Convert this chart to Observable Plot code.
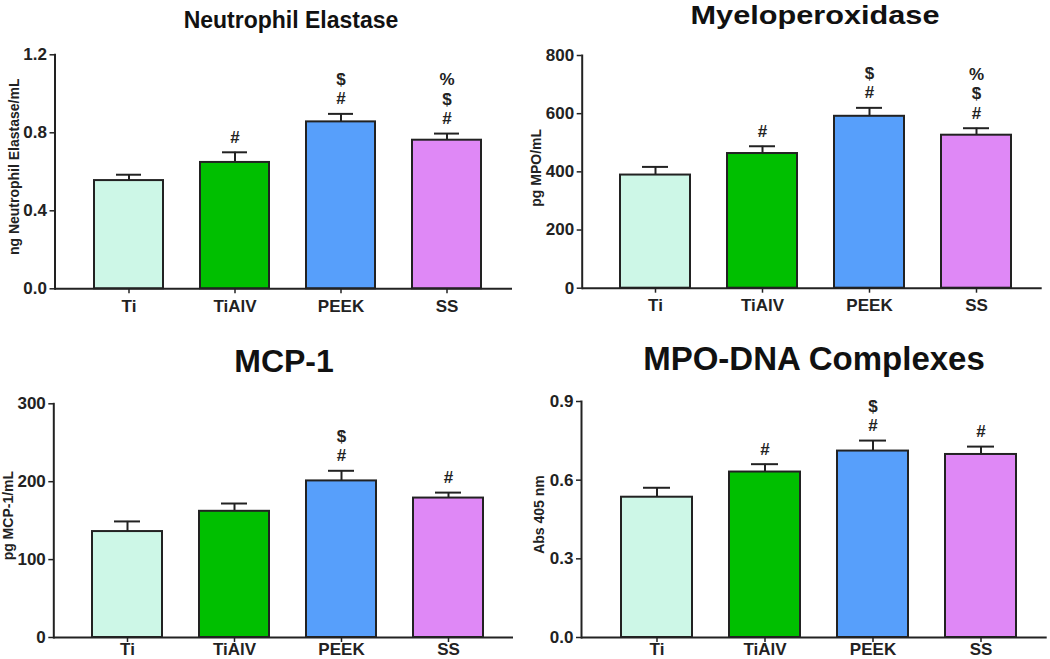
<!DOCTYPE html>
<html><head><meta charset="utf-8">
<script src="https://cdn.jsdelivr.net/npm/d3@7"></script>
<script src="https://cdn.jsdelivr.net/npm/@observablehq/plot@0.6"></script>
<style>
body{margin:0;background:#fff;font-family:"Liberation Sans",Arial,sans-serif;}
#wrap{position:relative;width:1050px;height:659px;overflow:hidden;background:#fff;}
.panel{position:absolute;}
.panel svg{overflow:visible;}
.title{position:absolute;font-weight:bold;line-height:1;text-align:center;width:600px;color:#111;white-space:nowrap;transform-origin:50% 50%;}
</style></head><body><div id="wrap"></div>
<script>
// ---- data ----
const categories = ["Ti", "TiAlV", "PEEK", "SS"];
const barColors = ["#cdf7e7", "#00bf00", "#579ffb", "#df88f6"];

const neMean = [0.555, 0.648, 0.856, 0.762];
const neSem  = [0.030, 0.052, 0.041, 0.034];
const neSig  = [[], ["#"], ["#", "$"], ["#", "$", "%"]];
const neTicks = [0, 0.4, 0.8, 1.2];

const mpoMean = [389, 463, 591, 526];
const mpoSem  = [28, 25, 29, 24];
const mpoSig  = [[], ["#"], ["#", "$"], ["#", "$", "%"]];
const mpoTicks = [0, 200, 400, 600, 800];

const mcpMean = [136, 162, 201, 179];
const mcpSem  = [13, 10, 13, 7];
const mcpSig  = [[], [], ["#", "$"], ["#"]];
const mcpTicks = [0, 100, 200, 300];

const dnaMean = [0.535, 0.631, 0.711, 0.698];
const dnaSem  = [0.036, 0.030, 0.040, 0.030];
const dnaSig  = [[], ["#"], ["#", "$"], ["#"]];
const dnaTicks = [0, 0.3, 0.6, 0.9];

const INK = "#222";
const FONT = "'Liberation Sans', Arial, sans-serif";

function makePanel(p) {
  const data = categories.map((c, i) => ({
    cat: c, mean: p.mean[i], upper: p.mean[i] + p.sem[i], color: barColors[i], sig: p.sig[i]
  }));
  const marks = [
    Plot.ruleX(data, {x: "cat", y1: "mean", y2: "upper", stroke: INK, strokeWidth: 2}),
    Plot.tickY(data, {x: "cat", y: "upper", stroke: INK, strokeWidth: 2, insetLeft: 22, insetRight: 22}),
    Plot.barY(data, {x: "cat", y: "mean", fill: "color", stroke: INK, strokeWidth: 2}),
    Plot.ruleY([0], {stroke: INK, strokeWidth: 2}),
    Plot.frame({anchor: "left", stroke: INK, strokeWidth: 2}),
    Plot.axisY({ticks: p.ticks, tickFormat: p.fmt, tickSize: 5, tickPadding: 3, fontSize: 17, fontWeight: "bold", label: null, color: INK, strokeWidth: 1.5}),
    Plot.axisX({tickSize: 5, tickPadding: p.xpad, fontSize: 17, fontWeight: "bold", label: null, color: INK, strokeWidth: 1.5}),
    Plot.text([p.ylabel], {frameAnchor: "left", textAnchor: "middle", rotate: -90, dx: p.labelDx, dy: p.labelDy, fontSize: 14, fontWeight: "bold", fill: INK, text: d => d})
  ];
  for (let lvl = 0; lvl < 3; lvl++) {
    marks.push(Plot.text(data.filter(d => d.sig.length > lvl), {
      x: "cat", y: "upper", text: d => d.sig[lvl], dy: -15 - 19.5 * lvl,
      fontSize: 17, fontWeight: "bold", fill: INK
    }));
  }
  return Plot.plot({
    width: 525, height: 330,
    marginLeft: p.ml, marginRight: p.mr, marginTop: p.mt, marginBottom: p.mb,
    x: {domain: categories, paddingInner: 0.346, paddingOuter: 0.311, align: 0.56},
    y: {domain: p.domain},
    style: {fontFamily: FONT, background: "transparent", color: INK},
    marks
  });
}

const panels = [
  {left: 0, top: 0, mean: neMean, sem: neSem, sig: neSig, ticks: neTicks, fmt: d3.format(".1f"), domain: [0, 1.2],
   ylabel: "ng Neutrophil Elastase/mL", ml: 54.5, mr: 13, mt: 54.3, mb: 41.7, labelDx: -40.5, labelDy: -5, xpad: 6,
   title: "Neutrophil Elastase", tfs: 23, tsx: 1, tcx: 291, tbase: 28},
  {left: 525, top: 0, mean: mpoMean, sem: mpoSem, sig: mpoSig, ticks: mpoTicks, fmt: d3.format("d"), domain: [0, 800],
   ylabel: "pg MPO/mL", ml: 56.7, mr: 8.3, mt: 55, mb: 42.3, labelDx: -45.5, labelDy: -4, xpad: 6,
   title: "Myeloperoxidase", tfs: 26, tsx: 1.18, tcx: 815, tbase: 24},
  {left: 0, top: 330, mean: mcpMean, sem: mcpSem, sig: mcpSig, ticks: mcpTicks, fmt: d3.format("d"), domain: [0, 300],
   ylabel: "pg MCP-1/mL", ml: 53.3, mr: 12, mt: 73.3, mb: 23, labelDx: -45, labelDy: -5, xpad: 0.5,
   title: "MCP-1", tfs: 32, tsx: 1, tcx: 284, tbase: 372.5},
  {left: 525, top: 330, mean: dnaMean, sem: dnaSem, sig: dnaSig, ticks: dnaTicks, fmt: d3.format(".1f"), domain: [0, 0.9],
   ylabel: "Abs 405 nm", ml: 56, mr: 3.3, mt: 71, mb: 23, labelDx: -42, labelDy: -5, xpad: 0.5,
   title: "MPO-DNA Complexes", tfs: 33, tsx: 1, tcx: 814, tbase: 369.5}
];

const wrap = document.getElementById("wrap");
for (const p of panels) {
  const div = document.createElement("div");
  div.className = "panel";
  div.style.left = p.left + "px";
  div.style.top = p.top + "px";
  div.appendChild(makePanel(p));
  wrap.appendChild(div);
  const t = document.createElement("div");
  t.className = "title";
  t.textContent = p.title;
  t.style.fontSize = p.tfs + "px";
  t.style.left = (p.tcx - 300) + "px";
  t.style.top = (p.tbase - 0.8465 * p.tfs) + "px";
  if (p.tsx !== 1) t.style.transform = `scaleX(${p.tsx})`;
  wrap.appendChild(t);
}
</script>
</body></html>
